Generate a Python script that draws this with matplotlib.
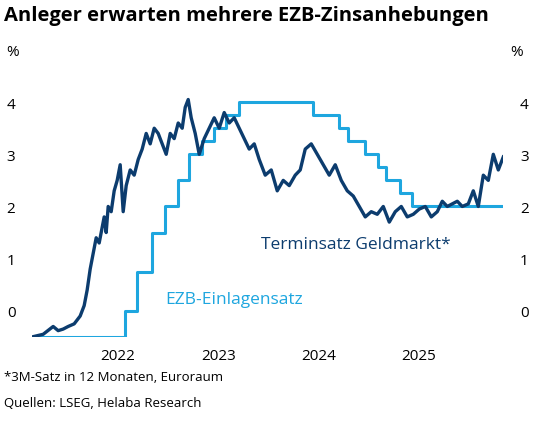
import matplotlib
matplotlib.use('Agg')
from matplotlib import pyplot as plt

# EZB-Einlagensatz: Zeitpunkte der Zinsschritte (Dezimaljahr) und neue Niveaus
ecb_dates = [2021.64, 2022.57, 2022.69, 2022.84, 2022.97, 2023.10, 2023.21, 2023.34,
             2023.46, 2023.58, 2023.71, 2024.45, 2024.71, 2024.80, 2024.97, 2025.10,
             2025.18, 2025.32, 2025.44, 2026.35]
ecb_rate = [-0.5, 0.0, 0.75, 1.5, 2.0, 2.5, 3.0, 3.25, 3.5, 3.75, 4.0, 3.75, 3.5,
            3.25, 3.0, 2.75, 2.5, 2.25, 2.0, 2.0]

# Terminsatz Geldmarkt (3M-Satz in 12 Monaten)
fwd_dates = [2021.64, 2021.75, 2021.85, 2021.90, 2021.95, 2022.00, 2022.06, 2022.12,
             2022.16, 2022.19, 2022.22, 2022.25, 2022.28, 2022.31, 2022.34, 2022.36,
             2022.38, 2022.40, 2022.43, 2022.46, 2022.49, 2022.52, 2022.55, 2022.58,
             2022.62, 2022.66, 2022.70, 2022.74, 2022.78, 2022.82, 2022.86, 2022.90,
             2022.94, 2022.98, 2023.02, 2023.06, 2023.10, 2023.14, 2023.17, 2023.20,
             2023.23, 2023.27, 2023.31, 2023.36, 2023.41, 2023.46, 2023.51, 2023.56,
             2023.61, 2023.66, 2023.71, 2023.76, 2023.81, 2023.86, 2023.91, 2023.97,
             2024.03, 2024.09, 2024.15, 2024.21, 2024.27, 2024.32, 2024.37, 2024.43,
             2024.49, 2024.55, 2024.61, 2024.67, 2024.73, 2024.79, 2024.85, 2024.91,
             2024.97, 2025.03, 2025.09, 2025.15, 2025.21, 2025.27, 2025.33, 2025.39,
             2025.45, 2025.51, 2025.57, 2025.63, 2025.69, 2025.74, 2025.79, 2025.84,
             2025.89, 2025.94, 2026.00, 2026.05, 2026.10, 2026.15, 2026.20, 2026.25,
             2026.30, 2026.35]
fwd_rate = [-0.5, -0.45, -0.3, -0.38, -0.35, -0.3, -0.25, -0.1, 0.1, 0.4, 0.8, 1.1,
            1.4, 1.3, 1.6, 1.8, 1.5, 2.0, 1.9, 2.3, 2.5, 2.8, 1.9, 2.4, 2.7, 2.6,
            2.9, 3.1, 3.4, 3.2, 3.5, 3.4, 3.2, 3.0, 3.4, 3.3, 3.6, 3.5, 3.9, 4.05,
            3.7, 3.4, 3.0, 3.3, 3.5, 3.7, 3.5, 3.8, 3.6, 3.7, 3.5, 3.3, 3.1, 3.2,
            2.9, 2.6, 2.7, 2.3, 2.5, 2.4, 2.6, 2.7, 3.1, 3.2, 3.0, 2.8, 2.6, 2.8,
            2.5, 2.3, 2.2, 2.0, 1.8, 1.9, 1.85, 2.0, 1.7, 1.9, 2.0, 1.8, 1.85, 1.95,
            2.0, 1.8, 1.9, 2.1, 2.0, 2.05, 2.1, 2.0, 2.05, 2.3, 2.0, 2.6, 2.5,
            3.0, 2.7, 2.95]

years = [2022, 2023, 2024, 2025]
yticks = [0, 1, 2, 3, 4]

plt.rcParams['font.family'] = ['Open Sans', 'DejaVu Sans']
navy = '#0c3c6e'
cyan = '#1ea6df'

fig = plt.figure(figsize=(5.36, 4.31), dpi=100)
ax = fig.add_axes([0.06, 0.216, 0.879, 0.575])

ax.step(ecb_dates, ecb_rate, where='post', color=cyan, lw=2.2)
ax.plot(fwd_dates, fwd_rate, color=navy, lw=2.4)

ax.set_xlim(2021.64, 2026.35)
ax.set_ylim(-0.5, 4.25)
ax.set_xticks([y + 0.5 for y in years])
ax.set_xticklabels([str(y) for y in years], fontsize=11)
ax.set_yticks(yticks)
ax.set_yticklabels(['0', '1', '2', '3', '4'], fontsize=11)
ax.tick_params(length=0, pad=8, labelleft=True, labelright=True)
ax.tick_params(axis='y', pad=12)
for s in ax.spines.values():
    s.set_visible(False)

ax.text(2023.93, 1.2, 'Terminsatz Geldmarkt*', color=navy, fontsize=12.5)
ax.text(2022.97, 0.15, 'EZB-Einlagensatz', color=cyan, fontsize=12.5)

fig.text(0.008, 0.985, 'Anleger erwarten mehrere EZB-Zinsanhebungen', fontsize=14.5,
         fontweight='bold', va='top')
fig.text(0.012, 0.895, '%', fontsize=11, va='top')
fig.text(0.975, 0.895, '%', fontsize=11, va='top', ha='right')
fig.text(0.008, 0.14, '*3M-Satz in 12 Monaten, Euroraum', fontsize=9.5, va='top')
fig.text(0.008, 0.08, 'Quellen: LSEG, Helaba Research', fontsize=9.5, va='top')

fig.savefig('out.png', dpi=100)
